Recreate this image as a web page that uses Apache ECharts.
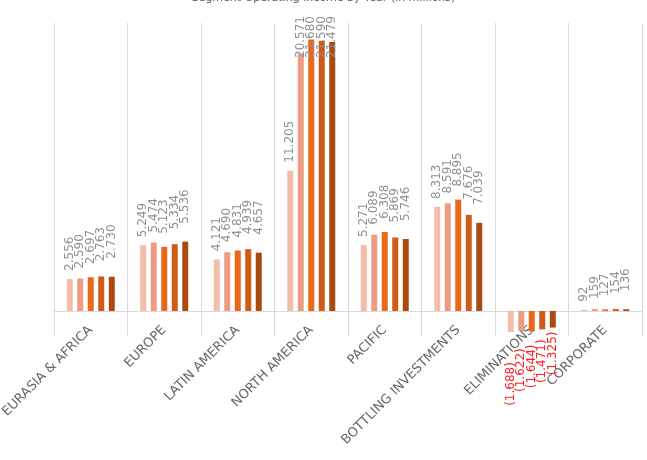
<!DOCTYPE html>
<html>
<head>
<meta charset="utf-8">
<script src="https://cdn.jsdelivr.net/npm/echarts@6/dist/echarts.min.js"></script>
<style>
  html, body { margin: 0; padding: 0; background: #fff; }
  #chart { width: 647px; height: 460px; }
</style>
</head>
<body>
<div id="chart"></div>
<script>
// segments on the x axis
const segments = [
  "EURASIA & AFRICA",
  "EUROPE",
  "LATIN AMERICA",
  "NORTH AMERICA",
  "PACIFIC",
  "BOTTLING INVESTMENTS",
  "ELIMINATIONS",
  "CORPORATE",
];
// one array per year (oldest first)
const year1 = [2556, 5249, 4121, 11205, 5271, 8313, -1688, 92];
const year2 = [2590, 5474, 4690, 20571, 6089, 8591, -1622, 159];
const year3 = [2697, 5123, 4831, 21680, 6308, 8895, -1644, 127];
const year4 = [2763, 5334, 4939, 21590, 5869, 7676, -1471, 154];
const year5 = [2730, 5536, 4657, 21479, 5746, 7039, -1325, 136];
const seriesNames = ["Year 1", "Year 2", "Year 3", "Year 4", "Year 5"];
const colors = ["#F4BCAB", "#EE9B83", "#E8691A", "#CF5B16", "#A94A12"];
// label gaps differ a bit per series in the original
const posGap = [8, 10, 13, 15, 18];
const negGap = [30, 17, 13, 10, 4];

const fmt = (v) => {
  const s = Math.abs(v).toString().replace(/\B(?=(\d{3})+(?!\d))/g, ".");
  return v < 0 ? "(" + s + ")" : s;
};

const makeSeries = (name, values, i) => ({
  name: name,
  type: "bar",
  barWidth: 6,
  barGap: "75%",
  itemStyle: { color: colors[i] },
  label: {
    show: true,
    position: "top",
    rotate: 90,
    align: "left",
    verticalAlign: "middle",
    distance: posGap[i],
    fontFamily: "DejaVu Sans",
    fontSize: 12,
    color: "#909090",
    formatter: (p) => fmt(p.value),
  },
  data: values.map((v) =>
    v < 0
      ? {
          value: v,
          label: {
            position: "bottom",
            align: "right",
            distance: negGap[i],
            color: "#ff2020",
          },
        }
      : v
  ),
});

const myChart = echarts.init(document.getElementById("chart"));
const option = {
  animation: false,
  title: {
    text: "Segment Operating Income by Year (in millions)",
    left: "center",
    top: -12,
    textStyle: {
      fontFamily: "DejaVu Sans",
      fontSize: 11,
      fontWeight: "normal",
      color: "#595959",
    },
  },
  grid: {
    left: 54,
    right: 5,
    top: 23,
    bottom: 124,
    containLabel: false,
    outerBoundsMode: "none",
  },
  xAxis: {
    type: "category",
    data: segments,
    axisLine: { onZero: true, lineStyle: { color: "#d9d9d9", width: 1 } },
    axisTick: { show: false },
    splitLine: { show: true, lineStyle: { color: "#d9d9d9", width: 1 } },
    axisLabel: {
      rotate: 45,
      interval: 0,
      margin: -8,
      fontFamily: "DejaVu Sans",
      fontSize: 13,
      color: "#666666",
    },
  },
  yAxis: {
    type: "value",
    min: -2000,
    max: 23000,
    interval: 1000,
    show: false,
    splitLine: { show: false },
  },
  // big labels that would run off the top get pulled down into the plot
  labelLayout: (params) => {
    const r = params.labelRect;
    if (r.y < 14) {
      return { y: 16 + r.height };
    }
  },
  series: [year1, year2, year3, year4, year5].map((vals, i) =>
    makeSeries(seriesNames[i], vals, i)
  ),
};
myChart.setOption(option);
</script>
</body>
</html>
